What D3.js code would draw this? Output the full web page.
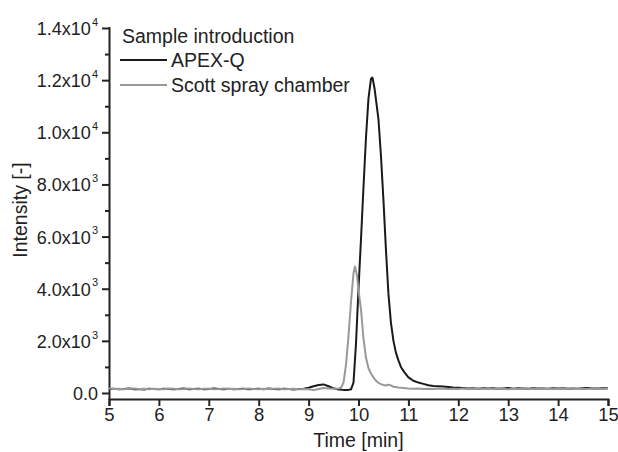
<!DOCTYPE html>
<html>
  <head>
    <meta http-equiv="Content-Type" content="text/html;charset=utf-8"/>
    <title>Intensity vs time</title>
    <script src="https://d3js.org/d3.v7.min.js"></script>
    <style>
      body { margin: 0; background: #fff; }
      svg text { font-family: "Liberation Sans", Arial, sans-serif; fill: #222; }
    </style>
  </head>
  <body>
    <div id="chart"></div>
    <script type="text/javascript">

      // APEX-Q trace (time in min, intensity)
      const apexTime = [
        5.0, 5.1, 5.2, 5.3, 5.4, 5.5, 5.6, 5.7, 5.8, 5.9,
        6.0, 6.1, 6.2, 6.3, 6.4, 6.5, 6.6, 6.7, 6.8, 6.9,
        7.0, 7.1, 7.2, 7.3, 7.4, 7.5, 7.6, 7.7, 7.8, 7.9,
        8.0, 8.1, 8.2, 8.3, 8.4, 8.5, 8.6, 8.7, 8.8, 8.9,
        9.0, 9.1, 9.2, 9.3, 9.4, 9.5, 9.6, 9.7, 9.8, 9.85,
        9.9, 9.95, 10.0, 10.05, 10.1, 10.15, 10.2, 10.25, 10.28, 10.32,
        10.4, 10.45, 10.5, 10.55, 10.6, 10.65, 10.7, 10.75, 10.8, 10.85,
        10.9, 10.95, 11.0, 11.1, 11.2, 11.3, 11.4, 11.5, 11.6, 11.7,
        11.8, 11.9, 12.0, 12.1, 12.2, 12.3, 12.4, 12.5, 12.6, 12.7,
        12.8, 12.9, 13.0, 13.1, 13.2, 13.3, 13.4, 13.5, 13.6, 13.7,
        13.8, 13.9, 14.0, 14.1, 14.2, 14.3, 14.4, 14.5, 14.6, 14.7,
        14.8, 14.9, 15.0
      ]
      const apexIntensity = [
        150, 160, 140, 150, 170, 145, 155, 135, 160, 150,
        140, 165, 150, 140, 155, 170, 145, 150, 160, 140,
        155, 175, 150, 140, 160, 145, 155, 165, 140, 150,
        160, 145, 170, 150, 140, 160, 150, 135, 155, 165,
        200, 260, 310, 330, 260, 180, 130, 120, 120, 140,
        400, 1900, 4000, 5900, 7900, 9800, 11300, 12050, 12100, 11700,
        10500, 9100, 7400, 5500, 3800, 2700, 2000, 1550, 1250, 1000,
        850, 720, 600, 470, 400, 350, 300, 270, 260, 250,
        230, 210, 200, 190, 175, 185, 165, 180, 170, 185,
        160, 175, 190, 165, 180, 170, 160, 185, 170, 175,
        160, 180, 170, 185, 165, 175, 160, 180, 190, 170,
        175, 185, 180
      ]

      // Scott spray chamber trace
      const scottTime = [
        5.0, 5.1, 5.2, 5.3, 5.4, 5.5, 5.6, 5.7, 5.8, 5.9,
        6.0, 6.1, 6.2, 6.3, 6.4, 6.5, 6.6, 6.7, 6.8, 6.9,
        7.0, 7.1, 7.2, 7.3, 7.4, 7.5, 7.6, 7.7, 7.8, 7.9,
        8.0, 8.1, 8.2, 8.3, 8.4, 8.5, 8.6, 8.7, 8.8, 8.9,
        9.0, 9.1, 9.2, 9.3, 9.4, 9.5, 9.6, 9.65, 9.7, 9.75,
        9.8, 9.85, 9.9, 9.93, 9.97, 10.0, 10.05, 10.1, 10.15, 10.2,
        10.25, 10.3, 10.35, 10.4, 10.45, 10.5, 10.55, 10.6, 10.65, 10.7,
        10.8, 10.9, 11.0, 11.1, 11.2, 11.3, 11.4, 11.5, 11.6, 11.7,
        11.8, 11.9, 12.0, 12.1, 12.2, 12.3, 12.4, 12.5, 12.6, 12.7,
        12.8, 12.9, 13.0, 13.1, 13.2, 13.3, 13.4, 13.5, 13.6, 13.7,
        13.8, 13.9, 14.0, 14.1, 14.2, 14.3, 14.4, 14.5, 14.6, 14.7,
        14.8, 14.9, 15.0
      ]
      const scottIntensity = [
        170, 150, 165, 145, 160, 175, 150, 160, 140, 165,
        155, 140, 170, 160, 145, 155, 175, 150, 140, 165,
        160, 145, 155, 170, 150, 160, 140, 155, 175, 150,
        145, 165, 150, 160, 175, 140, 155, 165, 140, 150,
        140, 110, 150, 190, 170, 160, 170, 200, 400, 1100,
        2200, 3500, 4600, 4850, 4500, 3950, 3200, 2100, 1350, 950,
        750, 600, 470, 390, 340, 310, 290, 320, 290, 240,
        210, 190, 170, 160, 175, 155, 165, 150, 170, 160,
        150, 165, 155, 170, 150, 165, 175, 155, 160, 150,
        170, 160, 145, 165, 155, 175, 160, 150, 170, 155,
        165, 150, 170, 160, 175, 155, 165, 150, 160, 175,
        165, 155, 170
      ]

      const xTicks = [5, 6, 7, 8, 9, 10, 11, 12, 13, 14, 15]
      const yMajorTicks = [0, 2000, 4000, 6000, 8000, 10000, 12000, 14000]
      const yMinorTicks = [1000, 3000, 5000, 7000, 9000, 11000, 13000]
      const yTickMantissa = ['0.0', '2.0x10', '4.0x10', '6.0x10', '8.0x10', '1.0x10', '1.2x10', '1.4x10']
      const yTickExponent = ['', '3', '3', '3', '3', '4', '4', '4']

      const seriesNames = ['APEX-Q', 'Scott spray chamber']
      const seriesColors = ['#1a1a1a', '#999999']

      const width = 618,
            height = 452,
            plotLeft = 109,
            plotRight = 608,
            plotTop = 28,
            plotBottom = 399,
            tickFont = 18,
            titleFont = 19.5

      const svg = d3.select('#chart').append('svg').attr('width', width).attr('height', height)

      const x = d3.scaleLinear().domain([5, 15]).range([plotLeft, plotRight])
      const y = d3.scaleLinear().domain([-230, 14000]).range([plotBottom, plotTop])

      // x axis
      const xAxis = svg.append('g')
        .attr('transform', 'translate(0,' + plotBottom + ')')
        .call(d3.axisBottom(x).tickValues(xTicks).tickSize(7).tickPadding(2).tickFormat(d3.format('d')))
      xAxis.select('.domain').attr('stroke', '#222').attr('stroke-width', 2)
      xAxis.selectAll('.tick line').attr('stroke', '#222').attr('stroke-width', 2)
      xAxis.selectAll('.tick text').attr('font-size', tickFont + 0.5).attr('fill', '#222')

      // y axis, minor ticks first
      svg.append('g')
        .attr('transform', 'translate(' + plotLeft + ',0)')
        .call(d3.axisLeft(y).tickValues(yMinorTicks).tickSize(4).tickFormat(''))
        .call(g => g.select('.domain').remove())
        .selectAll('.tick line').attr('stroke', '#222').attr('stroke-width', 2)

      const yAxis = svg.append('g')
        .attr('transform', 'translate(' + plotLeft + ',0)')
        .call(d3.axisLeft(y).tickValues(yMajorTicks).tickSize(7).tickPadding(4).tickSizeOuter(0).tickFormat(''))
      yAxis.select('.domain').attr('stroke', '#222').attr('stroke-width', 2)
        .attr('d', 'M0.5,' + (plotTop - 1) + 'V' + (plotBottom + 1))
      yAxis.selectAll('.tick line').attr('stroke', '#222').attr('stroke-width', 2)

      yAxis.selectAll('.tick').each(function(d, i) {
        const t = d3.select(this).append('text')
          .attr('x', -11)
          .attr('dy', '0.36em')
          .attr('text-anchor', 'end')
          .attr('font-size', tickFont)
          .attr('fill', '#222')
        t.append('tspan').text(yTickMantissa[i])
        if (yTickExponent[i]) {
          t.append('tspan').attr('font-size', 11).attr('dy', '-0.85em').attr('dx', 1).text(yTickExponent[i])
        }
      })

      // axis titles
      svg.append('text')
        .attr('x', (plotLeft + plotRight) / 2)
        .attr('y', 447)
        .attr('text-anchor', 'middle')
        .attr('font-size', titleFont)
        .text('Time [min]')

      svg.append('text')
        .attr('transform', 'translate(27,' + 210 + ') rotate(-90)')
        .attr('text-anchor', 'middle')
        .attr('font-size', titleFont)
        .text('Intensity [-]')

      // traces
      const line = d3.line().x(d => x(d[0])).y(d => y(d[1]))
      const apexData = apexTime.map((t, i) => [t, apexIntensity[i]])
      const scottData = scottTime.map((t, i) => [t, scottIntensity[i]])

      ;[apexData, scottData].forEach((data, i) => {
        svg.append('path')
          .datum(data)
          .attr('d', line)
          .attr('fill', 'none')
          .attr('stroke', seriesColors[i])
          .attr('stroke-width', 2)
          .attr('stroke-linejoin', 'round')
      })

      // legend
      const legend = svg.append('g')
      legend.append('text').attr('x', 122).attr('y', 43).attr('font-size', titleFont).text('Sample introduction')
      seriesNames.forEach((name, i) => {
        const ly = 60 + i * 25
        legend.append('line')
          .attr('x1', 120).attr('x2', 167)
          .attr('y1', ly).attr('y2', ly)
          .attr('stroke', seriesColors[i]).attr('stroke-width', 2)
        legend.append('text').attr('x', 171).attr('y', ly + 7).attr('font-size', titleFont).text(name)
      })

    </script>
  </body>
</html>
